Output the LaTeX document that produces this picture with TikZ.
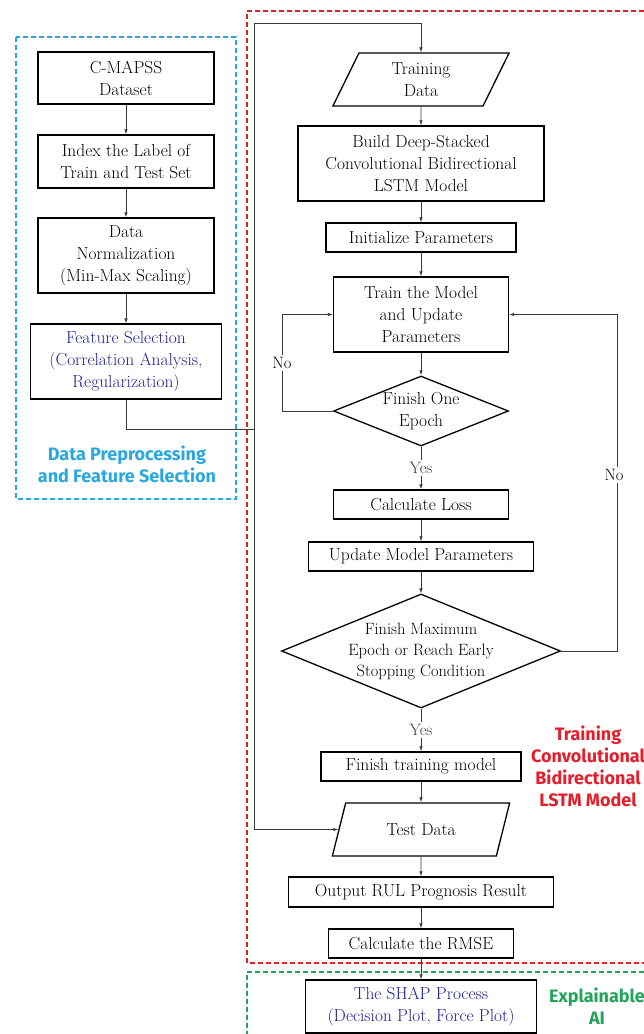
\documentclass[tikz,border=0pt]{standalone}
\usepackage{fontspec}
\newfontfamily\tagfont{Fira Sans}
\usetikzlibrary{shapes.geometric,arrows.meta}

\definecolor{prepblue}{HTML}{29A8DF}
\definecolor{trainred}{HTML}{E41E2B}
\definecolor{xaigreen}{HTML}{22A45A}
\definecolor{textblue}{HTML}{1E1E96}
\definecolor{wire}{HTML}{3A3A3A}

\begin{document}
\begin{tikzpicture}[x=1pt,y=-1pt,
    box/.style={draw,line width=1.3pt,align=center,inner sep=0pt,
      font=\fontsize{17.4}{22}\selectfont},
    iobox/.style={trapezium,trapezium stretches=true,draw,line width=1.3pt,
      align=center,inner sep=0pt,font=\fontsize{17.4}{22}\selectfont},
    decision/.style={diamond,draw,line width=1.3pt,inner sep=0pt},
    decisiontext/.style={align=center,inner sep=0pt},
    flow/.style={wire,line width=0.8pt,-{Latex[length=5pt,width=3.5pt]}},
    answer/.style={fill=white,inner sep=2pt,font=\fontsize{16.5}{20}\selectfont},
    group/.style={dash pattern=on 5pt off 3pt,line width=1.4pt},
    tag/.style={align=center,font=\tagfont\bfseries\fontsize{18}{22}\selectfont}]
        \useasboundingbox (0,0) rectangle (644,1034) ;

        % dashed groups
        \draw[group,prepblue] (16,37) rectangle (236,499) ;
        \draw[group,trainred] (644,11) -| (247,963) -- (644,963) ;
        \draw[group,xaigreen] (644,972) -| (247,1034) ;

        \node[tag,prepblue] (preptag) at (127,464) {Data Preprocessing\\and Feature Selection} ;
        \node[tag,trainred] (traintag) at (588,766) {Training\\Convolutional\\Bidirectional\\LSTM Model} ;
        \node[tag,xaigreen] (xaitag) at (597,1006) {Explainable\\AI} ;

        % preprocessing
        \node[box,minimum width=176,minimum height=52] (cmapss) at (126,78) {C-MAPSS\\Dataset} ;
        \node[box,minimum width=176,minimum height=53] (index) at (126,161.5) {Index the Label of\\Train and Test Set} ;
        \node[box,minimum width=176,minimum height=75] (norm) at (126,255.5) {Data\\Normalization\\(Min-Max Scaling)} ;
        \node[box,text=textblue,minimum width=191,minimum height=75] (featsel) at (126,361.5) {Feature Selection\\(Correlation Analysis,\\Regularization)} ;
        \draw[flow] (cmapss) -- (index) ;
        \draw[flow] (index) -- (norm) ;
        \draw[flow] (norm) -- (featsel) ;

        % training
        \node[iobox,trapezium left angle=70,trapezium right angle=110,minimum width=177,minimum height=53] (traindata) at (421,79.5) {Training\\Data} ;
        \node[box,minimum width=246,minimum height=75] (build) at (421,163.5) {Build Deep-Stacked\\Convolutional Bidirectional\\LSTM Model} ;
        \node[box,minimum width=190,minimum height=29] (init) at (421,237.5) {Initialize Parameters} ;
        \node[box,minimum width=175,minimum height=75] (train) at (421,314.5) {Train the Model\\and Update\\Parameters} ;
        \node[decision,minimum width=175,minimum height=70,
          label={[decisiontext,font=\fontsize{17.4}{22}\selectfont]center:Finish One\\Epoch}] (oneep) at (421,411) {} ;
        \node[box,minimum width=175,minimum height=29] (loss) at (421,504.5) {Calculate Loss} ;
        \node[box,minimum width=225,minimum height=29] (update) at (421,556.5) {Update Model Parameters} ;
        \node[decision,minimum width=279,minimum height=114,
          label={[decisiontext,font=\fontsize{16.4}{21}\selectfont]center:Finish Maximum\\Epoch or Reach Early\\Stopping Condition}] (maxep) at (421,651) {} ;
        \node[box,minimum width=200,minimum height=29] (finish) at (421,766.5) {Finish training model} ;
        \node[iobox,trapezium left angle=63,trapezium right angle=117,minimum width=178,minimum height=53] (testdata) at (421,829.5) {Test Data} ;
        \node[box,minimum width=265,minimum height=30] (output) at (421,892) {Output RUL Prognosis Result} ;
        \node[box,minimum width=185,minimum height=29] (rmse) at (421,943.5) {Calculate the RMSE} ;
        \node[box,text=textblue,minimum width=231,minimum height=53] (shap) at (421,1006.5) {The SHAP Process\\(Decision Plot, Force Plot)} ;

        \coordinate (join) at (254,429) ;
        \coordinate (looptop) at (254,23) ;
        \draw[wire,line width=0.8pt] (featsel.south) |- (join) ;
        \draw[flow] (join) -- (looptop) -| (traindata.north) ;
        \draw[flow] (join) |- (testdata) ;

        \draw[flow] (traindata) -- (build) ;
        \draw[flow] (build) -- (init) ;
        \draw[flow] (init) -- (train) ;
        \draw[flow] (train) -- (oneep) ;
        \draw[flow] (oneep.west) -- ++(-50,0) |- (train.west) ;
        \node[answer] (no1) at (282,363) {No} ;
        \draw[flow] (oneep) -- node[answer] (yes1) {Yes} (loss) ;
        \draw[flow] (loss) -- (update) ;
        \draw[flow] (update) -- (maxep) ;
        \draw[flow] (maxep.east) -- ++(56,0) |- (train.east) ;
        \node[answer] (no2) at (614,475) {No} ;
        \draw[flow] (maxep) -- node[answer] (yes2) {Yes} (finish) ;
        \draw[flow] (finish) -- (testdata) ;
        \draw[flow] (testdata) -- (output) ;
        \draw[flow] (output) -- (rmse) ;
        \draw[flow] (rmse) -- (shap) ;
    \end{tikzpicture}
\end{document}
